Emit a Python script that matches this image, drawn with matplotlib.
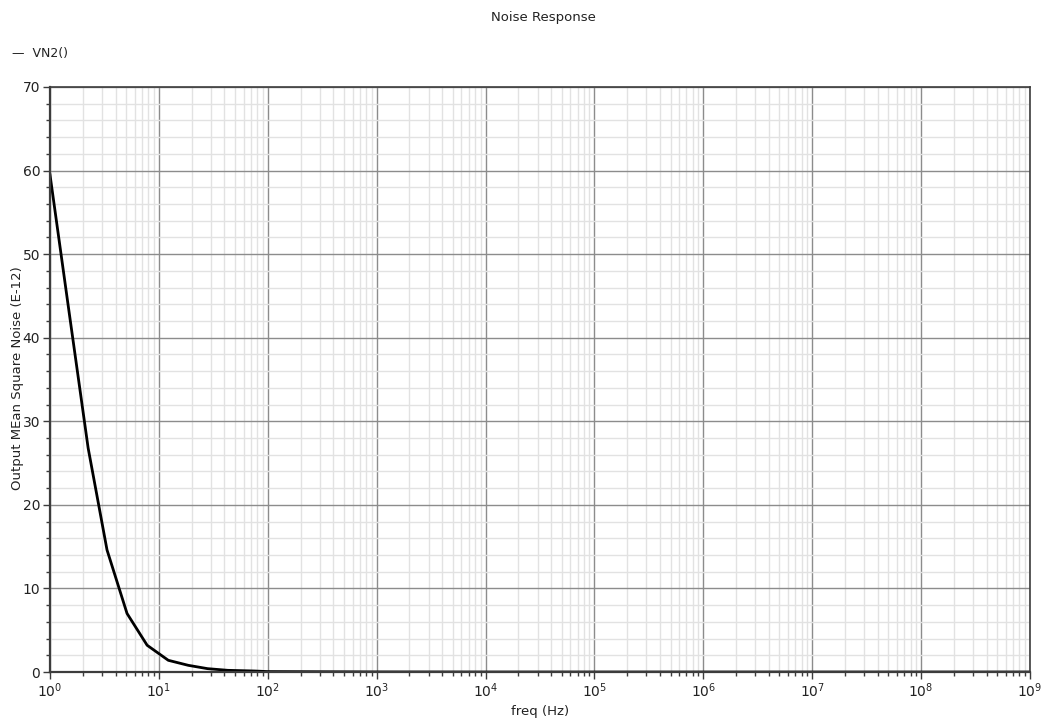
import numpy as np
import matplotlib.pyplot as plt
from matplotlib.ticker import LogLocator, MultipleLocator, LogFormatterMathtext, NullFormatter

plt.rcParams['font.family'] = ['DejaVu Sans']
plt.rcParams['mathtext.default'] = 'regular'

# noise response
freq = [1, 1.5, 2.24, 3.34, 5.1, 7.8, 12.2, 18.6, 28, 43, 75, 100, 1e3, 1e4, 1e5, 1e6, 1e7, 1e8, 1e9]
vn2 = [59.5, 43.0, 26.8, 14.6, 7.0, 3.2, 1.4, 0.8, 0.4, 0.2, 0.12, 0.05, 0.01, 0, 0, 0, 0, 0, 0]

title = "Noise Response"
legend_name = "VN2()"
xlabel = "freq (Hz)"
ylabel = "Output MEan Square Noise (E-12)"

fig = plt.figure(figsize=(10.47, 7.23), dpi=100)
ax = fig.add_axes([50/1047, 51/723, 980/1047, 585/723])

ax.plot(freq, vn2, color='black', lw=2.0, solid_joinstyle='round')
ax.set_xscale('log')
ax.set_xlim(1, 1e9)
ax.set_ylim(0, 70)

ax.xaxis.set_major_locator(LogLocator(base=10, numticks=20))
ax.xaxis.set_minor_locator(LogLocator(base=10, subs=np.arange(2, 10), numticks=200))
ax.xaxis.set_major_formatter(LogFormatterMathtext())
ax.xaxis.set_minor_formatter(NullFormatter())
ax.yaxis.set_major_locator(MultipleLocator(10))
ax.yaxis.set_minor_locator(MultipleLocator(2))

ax.grid(which='major', color='#8c8c8c', lw=1.0)
ax.grid(which='minor', color='#e2e2e2', lw=1.0)
ax.set_axisbelow(True)

for s in ax.spines.values():
    s.set_color('#3c3c3c')
    s.set_linewidth(1.2)
ax.spines['left'].set_linewidth(1.6)
ax.spines['bottom'].set_linewidth(1.6)

ax.tick_params(which='major', direction='out', length=5, width=1, color='#3c3c3c',
               labelsize=10, labelcolor='#222222', pad=2)
ax.tick_params(which='minor', direction='out', length=3, width=1, color='#3c3c3c')

ax.set_xlabel(xlabel, fontsize=9.5, color='#222222')
ax.set_ylabel(ylabel, fontsize=9.5, color='#222222')
ax.xaxis.set_label_coords(0.5, -0.056)
ax.yaxis.set_label_coords(-0.0265, 0.5026)

fig.text(543/1047, 1 - 17/723, title, ha='center', va='center', fontsize=9.5, color='#222222')
fig.text(12/1047, 1 - 54/723, "\u2014  " + legend_name, ha='left', va='center', fontsize=9, color='#222222')

fig.savefig('out.png', dpi=100)
